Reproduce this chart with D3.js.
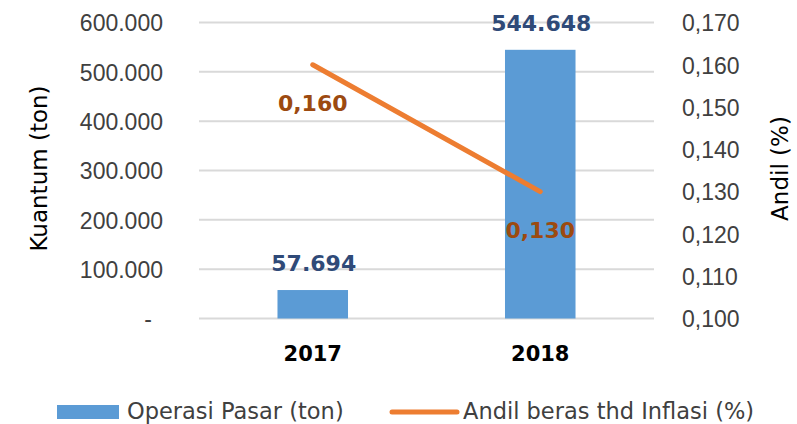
<!DOCTYPE html>
<html lang="id">
<head>
<meta charset="utf-8">
<title>Operasi Pasar vs Andil Beras</title>
<script src="https://cdn.jsdelivr.net/npm/d3@7"></script>
<style>
  body { margin: 0; background: #fff; }
  svg { display: block; font-family: "DejaVu Sans", sans-serif; }
  .tick text { fill: #404040; font-size: 23px; }
</style>
</head>
<body>
<div id="chart"></div>
<script>
// data
let years = ["2017", "2018"]
let kuantum = [57694, 544648]
let andil = [0.160, 0.130]
let kuantumTicks = [0, 100000, 200000, 300000, 400000, 500000, 600000]
let andilTicks = [0.10, 0.11, 0.12, 0.13, 0.14, 0.15, 0.16, 0.17]

let width = 797
let height = 424
let plotLeft = 199, plotRight = 654, plotTop = 22.5, plotBottom = 318.5

let svg = d3.select("#chart").append("svg")
  .attr("width", width).attr("height", height)

let x = d3.scaleBand().domain(years).range([plotLeft, plotRight]).padding(0)
let yL = d3.scaleLinear().domain([0, 600000]).range([plotBottom, plotTop])
let yR = d3.scaleLinear().domain([0.10, 0.17]).range([plotBottom, plotTop])

let fmtK = (d) => d === 0 ? "-" : d3.format(",")(d).replace(/,/g, ".")
let fmtA = (d) => d3.format(".3f")(d).replace(".", ",")

// gridlines
svg.append("g")
  .selectAll("line")
  .data(kuantumTicks)
  .enter()
  .append("line")
    .attr("x1", plotLeft).attr("x2", plotRight)
    .attr("y1", (d) => yL(d)).attr("y2", (d) => yL(d))
    .attr("stroke", "#d9d9d9")
    .attr("stroke-width", 2)

// left axis
let gL = svg.append("g")
  .attr("transform", "translate(" + (plotLeft - 36) + ",0)")
  .call(d3.axisLeft(yL).tickValues(kuantumTicks).tickFormat(fmtK).tickSize(0).tickPadding(0))
gL.select(".domain").remove()
gL.selectAll(".tick text").attr("dy", "0.36em")
  .filter((d) => d === 0).attr("x", -11)

// right axis
let gR = svg.append("g")
  .attr("transform", "translate(" + (plotRight + 28) + ",0)")
  .call(d3.axisRight(yR).tickValues(andilTicks).tickFormat(fmtA).tickSize(0).tickPadding(0))
gR.select(".domain").remove()
gR.selectAll(".tick text").attr("dy", "0.36em")

// bars
let barW = x.bandwidth() * 0.31
svg.append("g")
  .selectAll("rect")
  .data(years)
  .enter()
  .append("rect")
    .attr("x", (d) => x(d) + x.bandwidth() / 2 - barW / 2)
    .attr("y", (d, i) => yL(kuantum[i]))
    .attr("width", barW)
    .attr("height", (d, i) => yL(0) - yL(kuantum[i]))
    .attr("fill", "#5b9bd5")

// bar labels
svg.append("g")
  .selectAll("text")
  .data(years)
  .enter()
  .append("text")
    .attr("x", (d) => x(d) + x.bandwidth() / 2 + 1)
    .attr("y", (d, i) => yL(kuantum[i]) - 27)
    .attr("dy", "0.36em")
    .attr("text-anchor", "middle")
    .attr("font-size", 22)
    .attr("font-weight", "bold")
    .attr("fill", "#2f4a78")
    .text((d, i) => fmtK(kuantum[i]))

// line
let line = d3.line()
  .x((d, i) => x(years[i]) + x.bandwidth() / 2)
  .y((d) => yR(d))
svg.append("path")
  .datum(andil)
  .attr("d", line)
  .attr("fill", "none")
  .attr("stroke", "#ed7d31")
  .attr("stroke-width", 5)
  .attr("stroke-linecap", "round")

svg.append("g")
  .selectAll("text")
  .data(andil)
  .enter()
  .append("text")
    .attr("x", (d, i) => x(years[i]) + x.bandwidth() / 2)
    .attr("y", (d) => yR(d) + 38)
    .attr("dy", "0.36em")
    .attr("text-anchor", "middle")
    .attr("font-size", 22)
    .attr("font-weight", "bold")
    .attr("fill", "#9c4a10")
    .text((d) => fmtA(d))

// category labels
svg.append("g")
  .selectAll("text")
  .data(years)
  .enter()
  .append("text")
    .attr("x", (d) => x(d) + x.bandwidth() / 2)
    .attr("y", 353)
    .attr("dy", "0.36em")
    .attr("text-anchor", "middle")
    .attr("font-size", 21)
    .attr("font-weight", "bold")
    .attr("fill", "#000")
    .text((d) => d)

// axis titles
svg.append("text")
  .attr("transform", "translate(47," + ((plotTop + plotBottom) / 2 - 2) + ") rotate(-90)")
  .attr("text-anchor", "middle")
  .attr("font-size", 23)
  .attr("fill", "#000")
  .text("Kuantum (ton)")

svg.append("text")
  .attr("transform", "translate(788," + ((plotTop + plotBottom) / 2 - 2) + ") rotate(-90)")
  .attr("text-anchor", "middle")
  .attr("font-size", 23)
  .attr("fill", "#000")
  .text("Andil (%)")

// legend
let legend = svg.append("g")
legend.append("rect")
  .attr("x", 57).attr("y", 405).attr("width", 62).attr("height", 14)
  .attr("fill", "#5b9bd5")
legend.append("text")
  .attr("x", 127).attr("y", 411).attr("dy", "0.36em")
  .attr("font-size", 22.5).attr("fill", "#404040")
  .text("Operasi Pasar (ton)")
legend.append("line")
  .attr("x1", 392).attr("x2", 457).attr("y1", 412).attr("y2", 412)
  .attr("stroke", "#ed7d31").attr("stroke-width", 5).attr("stroke-linecap", "round")
legend.append("text")
  .attr("x", 463).attr("y", 411).attr("dy", "0.36em")
  .attr("font-size", 22.5).attr("fill", "#404040")
  .text("Andil beras thd Inflasi (%)")
</script>
</body>
</html>
